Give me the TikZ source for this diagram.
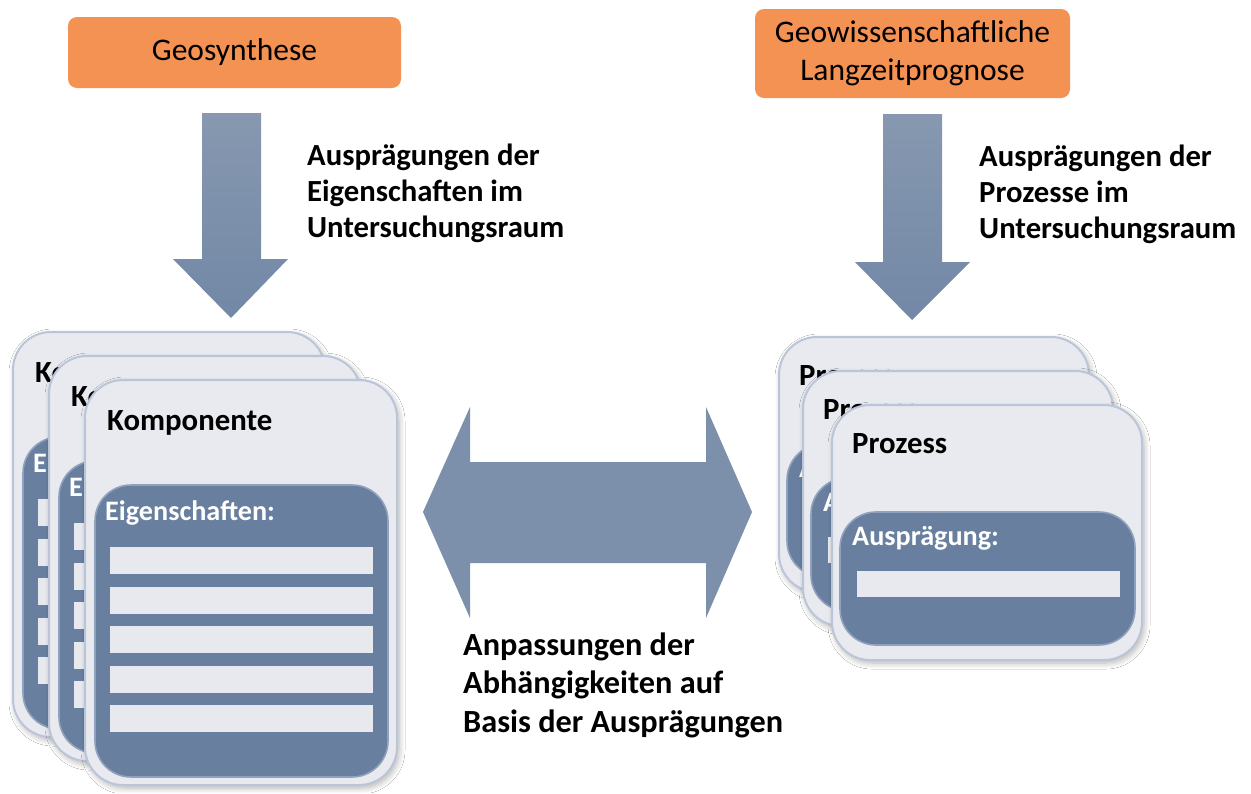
\documentclass[tikz,border=0pt]{standalone}
\usepackage{fontspec}
\setmainfont{Carlito}
\usetikzlibrary{shadows.blur}

\definecolor{orangefill}{HTML}{F39253}
\definecolor{cardfill}{HTML}{E9EAF0}
\definecolor{cardline}{HTML}{BAC5D8}
\definecolor{panelfill}{HTML}{687F9F}
\definecolor{panelline}{HTML}{8FA1BC}
\definecolor{barfill}{HTML}{E8E9EF}
\definecolor{arrowtop}{HTML}{8798B0}
\definecolor{arrowbot}{HTML}{7288A6}
\definecolor{arrowmid}{HTML}{7C90AB}

\tikzset{
  sourcebox/.style={fill=orangefill, rounded corners=9pt, inner sep=0pt,
    align=center, font=\fontsize{31.5}{38}\selectfont},
  card/.style={draw=cardline, line width=2pt, fill=cardfill, rounded corners=38pt,
    blur shadow={shadow xshift=2pt, shadow yshift=-3pt, shadow blur steps=8,
      shadow blur radius=6pt, shadow opacity=30}},
  panel/.style={draw=panelline, line width=1.6pt, fill=panelfill, rounded corners=36pt},
  bar/.style={fill=barfill, draw=none},
  cardtitle/.style={anchor=base west, inner sep=0pt, font=\fontsize{30.8}{36}\selectfont\bfseries},
  paneltitle/.style={anchor=base west, inner sep=0pt, text=white, font=\fontsize{28.2}{34}\selectfont\bfseries},
  label/.style={anchor=base west, inner sep=0pt, align=left},
  blockarrow/.style={top color=arrowtop, bottom color=arrowbot, draw=none},
}

% component card: #1 name, (#2,#3) top left corner
\newcommand\compcard[3]{%
  \begin{scope}[shift={(#2,#3)}]
    \path[card] (0,0) rectangle (312,405);
    \node[cardtitle] (#1-title) at (22,50) {Komponente};
    \path[panel] (10,105) rectangle (303,397);
    \node[paneltitle] (#1-label) at (20,140) {Eigenschaften:};
    \foreach \i in {0,...,4} {
      \path[bar] (25,167+39.5*\i) rectangle (288,194+39.5*\i);
    }
  \end{scope}}

% process card: #1 name, (#2,#3) top left corner
\newcommand\proccard[3]{%
  \begin{scope}[shift={(#2,#3)}]
    \path[card] (0,0) rectangle (310,255);
    \node[cardtitle] (#1-title) at (20,48) {Prozess};
    \path[panel] (8,107) rectangle (303,240);
    \node[paneltitle] (#1-label) at (20,140) {Ausprägung:};
    \path[bar] (25,166) rectangle (288,192);
  \end{scope}}

\begin{document}
\begin{tikzpicture}[x=1pt,y=-1pt]
  \useasboundingbox (0,0) rectangle (1251,793);
  \fill[white] (0,0) rectangle (1251,793);

  % sources
  \node[sourcebox, minimum width=333pt, minimum height=71pt] (geo) at (234.5,52.5) {Geosynthese};
  \node[sourcebox, minimum width=315pt, minimum height=89pt] (prog) at (912.5,53.5)
    {Geowissenschaftliche\\Langzeitprognose};

  % downward block arrows
  \path[blockarrow] (202,113) -- (261,113) -- (261,259) -- (288,259) -- (231,318)
    -- (173,259) -- (202,259) -- cycle;
  \path[blockarrow] (883,114) -- (942,114) -- (942,262) -- (970,262) -- (912,320)
    -- (855,262) -- (883,262) -- cycle;

  % double arrow between the stacks
  \path[fill=arrowmid] (423,512) -- (470,407) -- (470,462) -- (706,462) -- (706,407)
    -- (752,512) -- (706,618) -- (706,563) -- (470,563) -- (470,618) -- cycle;

  % labels (anchored at the baseline of their last line)
  \node[label, font=\fontsize{30.7}{36}\selectfont\bfseries] (lblA) at (307,237)
    {Ausprägungen der\\Eigenschaften im\\Untersuchungsraum};
  \node[label, font=\fontsize{30.7}{36}\selectfont\bfseries] (lblB) at (979,238)
    {Ausprägungen der\\Prozesse im\\Untersuchungsraum};
  \node[label, font=\fontsize{32.3}{38.5}\selectfont\bfseries] (lblC) at (463,732)
    {Anpassungen der\\Abhängigkeiten auf\\Basis der Ausprägungen};

  % component stack
  \compcard{kA}{13}{332}
  \compcard{kB}{49}{356}
  \compcard{kC}{85}{380}

  % process stack
  \proccard{pA}{779}{337}
  \proccard{pB}{803}{371}
  \proccard{pC}{832}{405}
\end{tikzpicture}
\end{document}
